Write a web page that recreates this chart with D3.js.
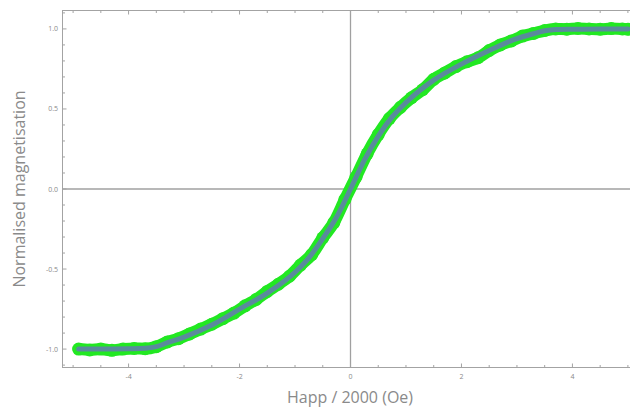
<!DOCTYPE html>
<html>
  <head>
    <style>
      body { margin: 0; background: #fff; }
      .frame { fill: none; stroke: #a3a3a3; stroke-width: 1; }
      .zero { stroke: #a0a0a0; stroke-width: 1.3; }
      .tick { stroke: #a3a3a3; stroke-width: 1; }
      .ticklabel { font-family: "Open Sans", sans-serif; font-size: 7px; fill: #8a8a8a; }
      .title { font-family: "Open Sans", sans-serif; font-size: 16px; fill: #8a8a8a; }
    </style>
    <script src="https://d3js.org/d3.v7.min.js"></script>
  </head>
  <body>
    <svg id="chart" width="630" height="409"></svg>

    <script>
      var svg = d3.select("#chart");

      // fitted curve (blue)
      var fitX = [-4.9, -4.5, -4.0, -3.7, -3.5, -3.3, -3.0, -2.5, -2.0, -1.5, -1.0, -0.75, -0.5, -0.25, 0,
                  0.25, 0.5, 0.75, 1.0, 1.5, 2.0, 2.5, 3.0, 3.3, 3.5, 3.7, 4.0, 4.5, 5.0];
      var fitM = [-1.0, -1.0, -0.998, -0.995, -0.985, -0.96, -0.925, -0.85, -0.75, -0.65, -0.52, -0.43, -0.31, -0.175, 0,
                  0.18, 0.33, 0.45, 0.54, 0.68, 0.78, 0.865, 0.94, 0.97, 0.988, 0.996, 0.998, 1.0, 1.0];

      var dataX = [-4.9, -4.7, -4.5, -4.3, -4.1, -3.9, -3.7, -3.5, -3.3, -3.1, -2.9, -2.7, -2.5, -2.3,
                   -2.1, -1.9, -1.7, -1.5, -1.3, -1.1, -0.9, -0.7, -0.5, -0.3, -0.1, 0.1, 0.3, 0.5,
                   0.7, 0.9, 1.1, 1.3, 1.5, 1.7, 1.9, 2.1, 2.3, 2.5, 2.7, 2.9, 3.1, 3.3, 3.5, 3.7,
                   3.9, 4.1, 4.3, 4.5, 4.7, 4.9, 5.0];
      var dataM = [-1.0, -1.005, -1.0, -1.008, -1.0, -0.996, -0.998, -0.985, -0.955, -0.935, -0.905, -0.875, -0.845, -0.81,
                   -0.775, -0.73, -0.69, -0.64, -0.595, -0.545, -0.475, -0.41, -0.305, -0.21, -0.065, 0.075, 0.22, 0.34,
                   0.44, 0.51, 0.57, 0.62, 0.685, 0.725, 0.765, 0.795, 0.82, 0.865, 0.9, 0.925, 0.955, 0.972, 0.99, 1.0,
                   0.998, 1.003, 1.0, 0.998, 1.002, 1.0, 0.998];

      var xTicks = [-4, -2, 0, 2, 4];
      var yTicks = [-1.0, -0.5, 0.0, 0.5, 1.0];

      var plotLeft = 62, plotTop = 10.5, plotBottom = 367.5, plotRight = 639;
      var x = d3.scaleLinear().domain([-5.2, 5.2]).range([plotLeft, plotRight]);
      var y = d3.scaleLinear().domain([-1.115, 1.115]).range([plotBottom, plotTop]);

      // frame
      svg.append("rect").attr("class", "frame")
        .attr("x", plotLeft + 0.5).attr("y", plotTop)
        .attr("width", plotRight - plotLeft).attr("height", plotBottom - plotTop);

      // zero axes
      svg.append("line").attr("class", "zero")
        .attr("x1", x(0)).attr("x2", x(0)).attr("y1", plotTop).attr("y2", plotBottom);
      svg.append("line").attr("class", "zero")
        .attr("x1", plotLeft).attr("x2", plotRight).attr("y1", y(0)).attr("y2", y(0));

      // ticks (inside the frame, Mathematica style)
      var xMinor = d3.range(-5, 5.01, 0.5);
      xMinor.forEach(function(v) {
        var major = xTicks.indexOf(v) >= 0;
        var len = major ? 4 : 2.5;
        svg.append("line").attr("class", "tick")
          .attr("x1", x(v)).attr("x2", x(v)).attr("y1", plotBottom).attr("y2", plotBottom - len);
        svg.append("line").attr("class", "tick")
          .attr("x1", x(v)).attr("x2", x(v)).attr("y1", plotTop).attr("y2", plotTop + len);
      });
      var yMinor = d3.range(-11, 12).map(function(i) { return i / 10; });
      yMinor.forEach(function(v) {
        var major = Math.abs(v * 2 - Math.round(v * 2)) < 1e-6;
        var len = major ? 4 : 2.5;
        svg.append("line").attr("class", "tick")
          .attr("x1", plotLeft + 0.5).attr("x2", plotLeft + 0.5 + len).attr("y1", y(v)).attr("y2", y(v));
      });

      svg.selectAll(".xl").data(xTicks).enter().append("text")
        .attr("class", "ticklabel")
        .attr("x", function(d) { return x(d); })
        .attr("y", plotBottom + 11)
        .attr("text-anchor", "middle")
        .text(function(d) { return d3.format("d")(d).replace("−", "-"); });

      svg.selectAll(".yl").data(yTicks).enter().append("text")
        .attr("class", "ticklabel")
        .attr("x", plotLeft - 4)
        .attr("y", function(d) { return y(d) + 2.5; })
        .attr("text-anchor", "end")
        .text(function(d) { return d3.format(".1f")(d).replace("−", "-"); });

      // green data band
      var pts = dataX.map(function(v, i) { return [v, dataM[i]]; });
      var line = d3.line()
        .x(function(d) { return x(d[0]); })
        .y(function(d) { return y(d[1]); })
        .curve(d3.curveMonotoneX);

      svg.append("path").datum(pts)
        .attr("d", line)
        .attr("fill", "none")
        .attr("stroke", "#22e822")
        .attr("stroke-width", 12)
        .attr("stroke-linecap", "round")
        .attr("stroke-linejoin", "round");

      svg.selectAll(".pt").data(pts).enter().append("circle")
        .attr("cx", function(d) { return x(d[0]); })
        .attr("cy", function(d) { return y(d[1]); })
        .attr("r", 6.5)
        .attr("fill", "#22e822");

      // fitted line
      var fit = fitX.map(function(v, i) { return [v, fitM[i]]; });
      svg.append("path").datum(fit)
        .attr("d", line)
        .attr("fill", "none")
        .attr("stroke", "#5a8a9c")
        .attr("stroke-width", 5)
        .attr("stroke-linecap", "round");

      // titles
      svg.append("text").attr("class", "title")
        .attr("x", 350).attr("y", 403)
        .attr("text-anchor", "middle")
        .text("Happ / 2000 (Oe)");

      svg.append("text").attr("class", "title")
        .attr("transform", "translate(25," + y(0) + ") rotate(-90)")
        .attr("text-anchor", "middle")
        .text("Normalised magnetisation");
    </script>
  </body>
</html>
